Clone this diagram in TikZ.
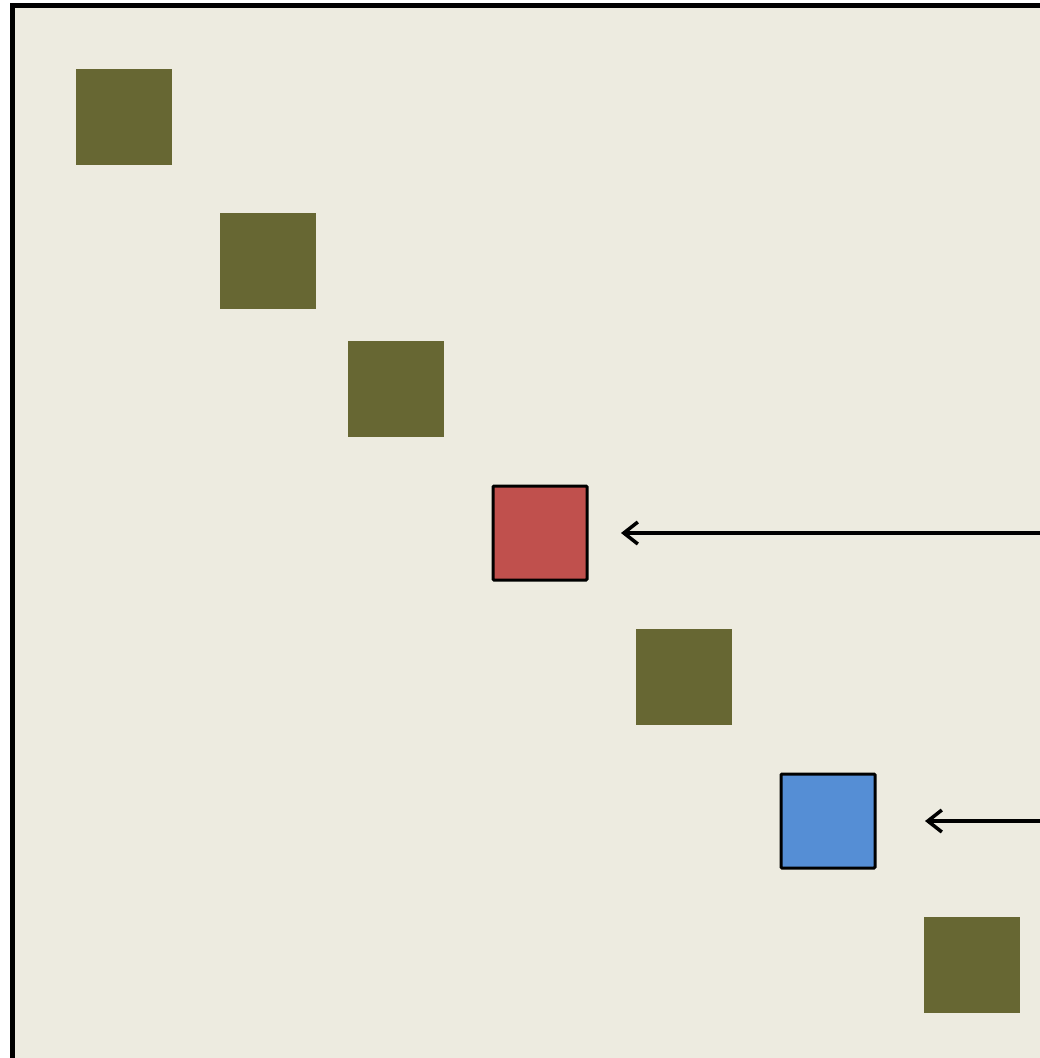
\documentclass[tikz,border=0pt]{standalone}
\usetikzlibrary{arrows.meta}
\definecolor{bgcream}{HTML}{EDEBE0}
\definecolor{olive}{HTML}{676733}
\definecolor{redsq}{HTML}{C0504D}
\definecolor{bluesq}{HTML}{558ED5}
\begin{document}
\begin{tikzpicture}[x=1pt,y=-1pt,
  sq/.style={minimum size=96pt,inner sep=0pt,outer sep=0pt,anchor=north west},
  plain/.style={sq,fill=olive},
  marked/.style={sq,draw=black,line width=3pt,rounded corners=1pt,minimum size=94pt},
  pointer/.style={line width=3.5pt,-{Straight Barb[length=14pt,width=22pt,line width=3.5pt]}}]
\useasboundingbox (0,0) rectangle (1040,1058);
\begin{scope}
\clip (0,0) rectangle (1040,1058);
\draw[fill=bgcream,line width=5pt] (12.5,5.5) rectangle (1060,1080);
\end{scope}
\node[plain] (s1) at (76,69) {};
\node[plain] (s2) at (220,213) {};
\node[plain] (s3) at (348,341) {};
\node[marked,fill=redsq] (s4) at (493,486) {};
\node[plain] (s5) at (636,629) {};
\node[marked,fill=bluesq] (s6) at (781,774) {};
\node[plain] (s7) at (924,917) {};
\coordinate (e1) at (1040,533);
\coordinate (e2) at (1040,821);
\draw[pointer,shorten >=34pt] (e1) -- (s4.east);
\draw[pointer,shorten >=50pt] (e2) -- (s6.east);
\end{tikzpicture}
\end{document}
